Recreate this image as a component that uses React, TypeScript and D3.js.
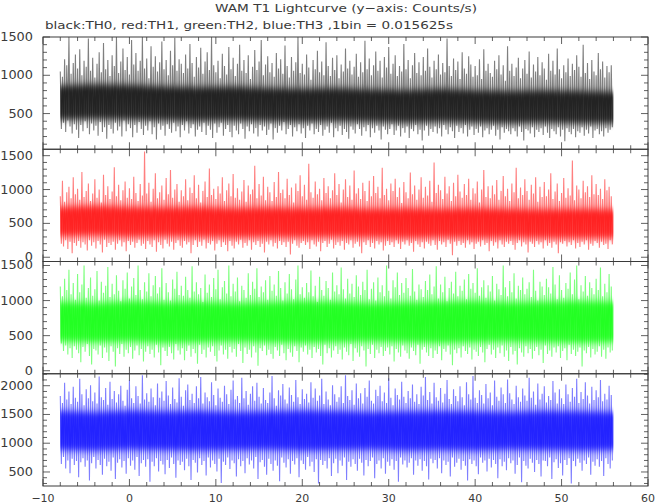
import React, { useEffect, useRef } from 'react';
import * as d3 from 'd3';

// binned lightcurves, one value every 0.125 s (peak / trough pairs)
const t_start = -8;
const bin_step = 0.125;

const th0_values = [
  1050, 300, 980, 380, 1210, 260, 1130, 410, 1500, 330, 1020, 240, 1160, 360, 1270, 290,
  1090, 180, 1340, 350, 1000, 270, 1190, 400, 1110, 310, 1480, 230, 1060, 370, 1230, 280,
  970, 340, 1150, 210, 1300, 390, 1040, 260, 1420, 320, 1080, 170, 1200, 350, 990, 300,
  1260, 240, 1120, 380, 1500, 280, 1030, 330, 1180, 200, 1350, 410, 1070, 270, 1240, 360,
  1010, 310, 1460, 190, 1140, 350, 1290, 250, 1060, 390, 1190, 300, 1500, 220, 1090, 340,
  1220, 280, 960, 400, 1380, 230, 1110, 320, 1250, 160, 1050, 370, 1170, 290, 1440, 340,
  1080, 210, 1200, 360, 1000, 300, 1320, 250, 1130, 380, 1490, 270, 1060, 330, 1210, 190,
  1150, 350, 1030, 280, 1270, 400, 1090, 240, 1410, 310, 1160, 360, 980, 200, 1240, 290,
  1100, 330, 1360, 260, 1020, 380, 1180, 220, 1300, 340, 1070, 290, 1500, 180, 1130, 370,
  1040, 250, 1190, 320, 960, 380, 1280, 210, 1120, 300, 1010, 350, 1370, 260, 1080, 190,
  1230, 340, 990, 280, 1150, 230, 1400, 370, 1060, 300, 1200, 170, 1030, 330, 1260, 270,
  950, 360, 1110, 240, 1330, 310, 1070, 200, 1180, 350, 1460, 280, 1000, 330, 1140, 220,
  1250, 290, 1040, 370, 1160, 160, 980, 310, 1290, 250, 1090, 340, 1210, 280, 1020, 390,
  1390, 230, 1120, 300, 970, 350, 1240, 200, 1060, 320, 1170, 270, 1500, 360, 1030, 240,
  1150, 310, 1010, 180, 1270, 340, 1100, 280, 940, 370, 1200, 230, 1080, 300, 1320, 260,
  1040, 350, 1180, 210, 1000, 290, 1430, 330, 1120, 250, 990, 380, 1230, 190, 1070, 310,
  1260, 270, 960, 340, 1140, 220, 1050, 300, 1350, 260, 1090, 170, 1190, 330, 1010, 290,
  1110, 240, 1280, 360, 980, 300, 1170, 210, 1040, 320, 1450, 270, 1080, 350, 1220, 190,
  1000, 310, 1130, 250, 1310, 340, 1060, 280, 1190, 160, 970, 330, 1240, 290, 1100, 230,
  1370, 300, 1020, 360, 1150, 220, 1260, 280, 990, 340, 1120, 200, 1050, 310, 1410, 250,
  1080, 330, 1200, 180, 960, 300, 1130, 270, 1290, 350, 1030, 230, 1170, 290, 1000, 150,
  1240, 280, 1060, 340, 1350, 210, 1110, 300, 970, 260, 1190, 330, 1080, 240, 1270, 310,
  1010, 200, 1160, 350, 1040, 290, 1480, 230, 1120, 320, 990, 270, 1220, 180, 1070, 340,
  1180, 260, 950, 310, 1300, 240, 1090, 350, 1020, 200, 1250, 290, 1140, 330, 980, 220,
  1120, 300, 1000, 250, 1210, 330, 950, 190, 1340, 280, 1060, 310, 1150, 230, 1030, 290,
  980, 340, 1190, 210, 1080, 290, 1260, 160, 1010, 320, 1130, 250, 930, 300, 1380, 270,
  1060, 230, 1150, 310, 990, 270, 1100, 200, 1230, 330, 960, 260, 1090, 150, 1200, 300,
  1020, 280, 1310, 240, 970, 320, 1140, 190, 1050, 290, 1240, 260, 1000, 310, 1170, 220,
  1090, 330, 940, 250, 1280, 180, 1060, 300, 1190, 270, 1010, 230, 1350, 320, 1080, 200,
  960, 290, 1130, 140, 1040, 310, 1220, 260, 990, 230, 1150, 300, 1070, 190, 1260, 270,
  1110, 250, 980, 320, 1400, 210, 1030, 290, 1160, 240, 950, 330, 1200, 180, 1050, 280,
  1000, 300, 1290, 230, 1080, 270, 1180, 200, 970, 310, 1120, 250, 1040, 290, 1130, 320,
];

const th1_values = [
  900, 200, 1130, 160, 820, 250, 960, 120, 1040, 230, 870, 60, 1180, 210, 930, 170,
  1010, 240, 850, 140, 1260, 220, 890, 190, 980, 100, 1090, 250, 830, 170, 940, 220,
  1150, 130, 880, 240, 1000, 190, 810, 70, 1220, 260, 920, 150, 1050, 210, 860, 180,
  970, 230, 1330, 110, 900, 200, 1070, 250, 840, 160, 990, 220, 1120, 90, 880, 240,
  1020, 180, 860, 230, 1190, 140, 950, 210, 830, 260, 1080, 170, 910, 200, 1560, 120,
  940, 240, 1100, 190, 820, 150, 1010, 250, 1240, 80, 870, 220, 960, 180, 1060, 130,
  850, 260, 1170, 200, 930, 160, 1290, 230, 880, 110, 1000, 210, 1080, 250, 820, 170,
  990, 140, 900, 240, 1150, 190, 840, 220, 1030, 60, 950, 180, 1210, 250, 870, 150,
  1070, 230, 810, 170, 980, 260, 1120, 130, 890, 210, 1310, 190, 920, 240, 1010, 100,
  860, 200, 1050, 250, 940, 150, 1180, 220, 830, 180, 990, 90, 1090, 240, 900, 170,
  1230, 130, 880, 230, 1020, 190, 850, 260, 970, 140, 1140, 210, 820, 170, 1060, 250,
  930, 110, 1000, 220, 1350, 180, 870, 240, 1080, 150, 910, 200, 1190, 70, 840, 230,
  1040, 190, 960, 250, 830, 160, 1110, 210, 890, 130, 1260, 240, 950, 180, 1000, 220,
  870, 150, 1160, 230, 920, 40, 1030, 200, 810, 250, 1090, 170, 980, 140, 1210, 210,
  900, 240, 1070, 180, 850, 220, 1380, 120, 960, 250, 880, 190, 1120, 160, 930, 230,
  1010, 90, 840, 210, 1170, 240, 950, 150, 1050, 200, 870, 260, 990, 130, 1240, 180,
  920, 220, 1080, 170, 810, 240, 1000, 110, 1150, 210, 890, 190, 1060, 250, 850, 140,
  1280, 200, 940, 230, 1020, 160, 860, 60, 1100, 220, 980, 180, 830, 250, 1130, 150,
  900, 210, 1200, 130, 950, 240, 1040, 190, 870, 220, 1320, 100, 920, 170, 1010, 240,
  840, 180, 1090, 220, 980, 150, 1160, 250, 890, 200, 1030, 120, 800, 230, 1110, 190,
  960, 250, 870, 170, 1250, 210, 930, 80, 1060, 240, 850, 190, 1000, 150, 1180, 220,
  880, 130, 1040, 230, 910, 200, 1130, 170, 820, 250, 1400, 180, 950, 110, 1070, 240,
  990, 190, 860, 220, 1190, 150, 940, 260, 1050, 200, 830, 30, 1100, 230, 900, 170,
  1220, 240, 970, 180, 880, 210, 1080, 140, 920, 250, 1160, 190, 850, 220, 1020, 120,
  940, 200, 1120, 230, 810, 160, 1000, 250, 1290, 180, 890, 210, 1050, 90, 870, 240,
  1060, 170, 930, 220, 1140, 130, 850, 250, 980, 190, 1200, 150, 900, 230, 1010, 200,
  830, 240, 1090, 180, 960, 110, 1320, 210, 870, 250, 1030, 160, 920, 220, 1150, 190,
  980, 70, 850, 230, 1070, 200, 940, 150, 1180, 240, 820, 190, 1040, 220, 890, 130,
  1110, 250, 900, 170, 1000, 210, 1240, 140, 860, 230, 970, 190, 1090, 60, 830, 220,
  950, 200, 1170, 240, 880, 160, 1020, 220, 910, 180, 1430, 250, 840, 130, 1060, 210,
  1000, 150, 870, 230, 1130, 190, 960, 250, 1050, 110, 890, 200, 1210, 170, 930, 240,
  1080, 210, 920, 140, 1010, 230, 860, 180, 1150, 200, 990, 120, 1040, 250, 900, 190,
];

const th2_values = [
  1200, 390, 1060, 280, 1310, 360, 1150, 230, 1440, 320, 1090, 180, 1250, 350, 1010, 300,
  1380, 250, 1120, 120, 1230, 340, 1500, 270, 1040, 380, 1180, 210, 1330, 90, 1070, 310,
  1160, 290, 1420, 230, 1000, 360, 1270, 180, 1110, 330, 1210, 260, 1480, 140, 1050, 350,
  1240, 270, 1090, 60, 1360, 320, 1140, 240, 990, 380, 1290, 200, 1170, 300, 1400, 250,
  1030, 340, 1200, 170, 1320, 290, 1080, 360, 1500, 220, 1150, 310, 1020, 130, 1260, 270,
  1130, 350, 1390, 240, 1060, 300, 1220, 190, 1350, 370, 1100, 260, 1190, 80, 1460, 330,
  1010, 280, 1250, 210, 1120, 340, 1000, 250, 1300, 160, 1170, 380, 1410, 290, 1080, 230,
  1210, 320, 1070, 150, 1340, 280, 1150, 360, 1040, 200, 1490, 310, 1130, 250, 1260, 100,
  1090, 370, 1180, 240, 980, 300, 1370, 190, 1110, 330, 1230, 270, 1050, 350, 1320, 210,
  1160, 130, 1440, 290, 1020, 360, 1190, 230, 1280, 300, 1100, 170, 1500, 340, 1060, 260,
  1240, 310, 1130, 200, 1330, 380, 990, 280, 1210, 110, 1150, 330, 1040, 240, 1390, 300,
  1080, 190, 1270, 350, 1170, 260, 1460, 70, 1050, 320, 1200, 280, 1120, 360, 1290, 220,
  1010, 300, 1350, 240, 1140, 170, 1230, 340, 1070, 290, 1420, 210, 1180, 370, 1000, 250,
  1260, 150, 1100, 310, 1380, 260, 1160, 200, 1020, 350, 1300, 280, 1500, 120, 1090, 330,
  1190, 270, 1040, 360, 1250, 230, 1120, 300, 1430, 180, 1060, 340, 1210, 260, 980, 310,
  1340, 210, 1150, 90, 1070, 370, 1280, 250, 1180, 320, 1010, 190, 1400, 290, 1130, 350,
  1220, 240, 1090, 300, 1470, 160, 1160, 330, 1030, 270, 1310, 220, 1100, 380, 1240, 140,
  1050, 320, 1360, 260, 1200, 200, 1080, 350, 1270, 290, 1150, 60, 1440, 310, 1020, 240,
  1170, 370, 1260, 180, 1000, 300, 1330, 250, 1120, 340, 1220, 210, 1060, 280, 1500, 330,
  1140, 230, 1030, 350, 1290, 130, 1190, 310, 1400, 260, 1080, 200, 1250, 360, 1110, 290,
  1320, 250, 1180, 170, 1070, 330, 1450, 280, 1130, 220, 1010, 370, 1230, 100, 1160, 300,
  1050, 340, 1280, 260, 1150, 210, 1370, 320, 1090, 180, 1200, 290, 1490, 240, 1030, 350,
  1230, 150, 1120, 310, 1340, 270, 990, 360, 1180, 230, 1270, 80, 1100, 300, 1410, 250,
  1060, 320, 1210, 190, 1140, 350, 1300, 280, 1020, 240, 1380, 330, 1170, 160, 1250, 300,
  1110, 270, 1460, 210, 1070, 340, 1190, 260, 1290, 120, 1040, 310, 1220, 370, 1130, 230,
  1350, 300, 1000, 180, 1240, 330, 1160, 250, 1080, 360, 1500, 200, 1190, 290, 1060, 140,
  1280, 340, 1120, 230, 1390, 280, 1030, 90, 1210, 320, 1150, 260, 1330, 200, 1090, 350,
  1170, 250, 1260, 310, 1050, 170, 1440, 280, 1140, 340, 1000, 220, 1270, 300, 1200, 110,
  1080, 360, 1310, 240, 1190, 290, 1100, 200, 1480, 330, 1230, 260, 1020, 350, 1360, 180,
  1150, 280, 1040, 320, 1250, 150, 1170, 370, 1400, 240, 1090, 300, 1300, 210, 1500, 270,
  1020, 330, 1220, 60, 1130, 290, 1350, 250, 1070, 340, 1260, 190, 1180, 310, 1090, 230,
  1310, 270, 1150, 350, 1470, 200, 1060, 300, 1240, 170, 1120, 330, 1380, 260, 1200, 290,
];

const th3_values = [
  1820, 640, 1700, 760, 2050, 560, 1760, 700, 1900, 480, 1680, 730, 1980, 620, 1790, 690,
  1720, 410, 2120, 670, 1850, 740, 1660, 590, 1940, 700, 1780, 350, 2010, 650, 1730, 760,
  1880, 560, 1690, 710, 2160, 620, 1800, 450, 1750, 730, 1960, 600, 1670, 680, 2070, 520,
  1770, 750, 1910, 380, 1710, 660, 1850, 720, 2000, 580, 1740, 690, 1650, 470, 1930, 740,
  2100, 610, 1780, 700, 1700, 540, 1990, 760, 1820, 430, 1690, 650, 2180, 710, 1760, 590,
  1870, 720, 1720, 330, 1950, 680, 1800, 600, 1660, 740, 2040, 510, 1790, 690, 1900, 630,
  1740, 460, 2080, 710, 1830, 570, 1680, 750, 1970, 640, 1770, 400, 1710, 700, 2130, 620,
  1810, 680, 1650, 530, 1920, 730, 2020, 600, 1750, 360, 1860, 710, 1700, 660, 1990, 490,
  1780, 740, 2150, 620, 1690, 690, 1880, 440, 1800, 750, 1730, 580, 2060, 700, 1840, 640,
  1660, 510, 1950, 730, 1790, 310, 1720, 680, 2000, 620, 1850, 750, 1680, 550, 1930, 700,
  2090, 650, 1760, 420, 1820, 720, 1700, 600, 2140, 690, 1780, 480, 1910, 740, 1670, 630,
  1860, 700, 1990, 560, 1740, 760, 2050, 380, 1810, 670, 1690, 710, 1960, 590, 1750, 450,
  1700, 730, 1880, 640, 2170, 520, 1780, 700, 1650, 610, 1920, 340, 1830, 750, 2030, 660,
  1760, 580, 1690, 720, 1970, 470, 1840, 690, 1720, 630, 2100, 740, 1800, 410, 1680, 700,
  1940, 640, 1770, 540, 1860, 760, 1710, 600, 2060, 680, 1790, 500, 1950, 720, 1740, 300,
  1830, 710, 2120, 620, 1680, 690, 1900, 560, 1760, 740, 1660, 430, 2010, 650, 1850, 730,
  1720, 480, 1800, 700, 1990, 610, 1700, 750, 2180, 360, 1820, 680, 1750, 590, 1920, 720,
  1670, 640, 2040, 520, 1780, 730, 1870, 660, 1690, 440, 1960, 710, 1810, 600, 2090, 690,
  1740, 750, 1690, 390, 1930, 640, 1820, 700, 2000, 560, 1730, 740, 1880, 470, 1700, 680,
  2130, 610, 1790, 720, 1660, 540, 1950, 690, 1840, 330, 1760, 750, 2070, 630, 1810, 700,
  1700, 580, 1910, 660, 1780, 740, 2020, 450, 1720, 700, 1850, 610, 1680, 720, 1980, 520,
  1830, 690, 2150, 600, 1750, 370, 1890, 730, 1690, 650, 2050, 710, 1800, 560, 1740, 740,
  1960, 480, 1710, 700, 1860, 620, 2100, 680, 1770, 420, 1680, 750, 1940, 590, 1820, 660,
  1730, 730, 1990, 540, 1800, 690, 1660, 610, 2060, 350, 1850, 720, 1760, 640, 2170, 700,
  1790, 600, 1700, 460, 1920, 750, 1840, 660, 1690, 700, 2030, 510, 1780, 730, 1880, 580,
  1660, 710, 2090, 640, 1810, 390, 1740, 720, 1970, 600, 1850, 680, 1700, 530, 2110, 740,
  1870, 650, 1760, 700, 1680, 470, 2000, 620, 1800, 750, 1720, 320, 1950, 690, 1830, 610,
  1740, 560, 2140, 730, 1790, 660, 1900, 500, 1670, 710, 2040, 640, 1760, 420, 1860, 700,
  1990, 690, 1710, 600, 1820, 750, 1750, 380, 2080, 670, 1880, 720, 1690, 570, 1940, 650,
  1780, 440, 1680, 710, 2020, 620, 1850, 740, 1720, 300, 1960, 690, 1810, 600, 2120, 730,
  1700, 660, 1890, 520, 1770, 700, 2060, 640, 1830, 750, 1690, 450, 1980, 680, 1750, 610,
  1920, 720, 1800, 590, 2100, 690, 1730, 430, 1860, 740, 1760, 640, 2000, 560, 1840, 700,
];

// dense core of each band, every 4 s
const band_t_step = 4;
const th0_band_lo = [420, 430, 420, 410, 400, 410, 400, 390, 400, 390, 380, 390, 380, 370, 380, 370, 370];
const th0_band_hi = [860, 880, 870, 850, 840, 850, 830, 820, 830, 810, 800, 820, 800, 790, 800, 790, 780];
const th1_band_lo = [310, 320, 300, 310, 300, 290, 300, 290, 300, 290, 280, 290, 280, 290, 280, 280, 280];
const th1_band_hi = [740, 760, 740, 730, 740, 720, 730, 720, 730, 710, 720, 710, 720, 710, 700, 710, 700];
const th2_band_lo = [420, 410, 420, 400, 410, 420, 410, 400, 410, 420, 410, 400, 410, 420, 410, 400, 410];
const th2_band_hi = [980, 960, 990, 970, 980, 960, 970, 990, 980, 960, 970, 980, 990, 970, 980, 990, 980];
const th3_band_lo = [880, 870, 890, 880, 870, 880, 890, 870, 880, 890, 870, 880, 870, 890, 880, 870, 880];
const th3_band_hi = [1560, 1540, 1570, 1550, 1560, 1540, 1550, 1570, 1560, 1540, 1550, 1560, 1550, 1540, 1560, 1550, 1540];

// y ranges of the four panels (counts/s)
const th0_domain = [34, 1500];
const th1_domain = [-63, 1595];
const th2_domain = [-43, 1557];
const th3_domain = [256, 2208];

const series_colors = ['#000000', '#ff0000', '#00ff00', '#0000ff'];

const x_domain = [-10, 60];
const x_major_ticks = [-10, 0, 10, 20, 30, 40, 50, 60];
const x_tick_labels = ['\u221210', '0', '10', '20', '30', '40', '50', '60'];

const title = 'WAM T1 Lightcurve (y\u2212axis: Counts/s)';
const subtitle = 'black:TH0, red:TH1, green:TH2, blue:TH3 ,1bin = 0.015625s';

const panels = [
  { values: th0_values, lo: th0_band_lo, hi: th0_band_hi, domain: th0_domain, color: series_colors[0] },
  { values: th1_values, lo: th1_band_lo, hi: th1_band_hi, domain: th1_domain, color: series_colors[1] },
  { values: th2_values, lo: th2_band_lo, hi: th2_band_hi, domain: th2_domain, color: series_colors[2] },
  { values: th3_values, lo: th3_band_lo, hi: th3_band_hi, domain: th3_domain, color: series_colors[3] },
];

const font = "'DejaVu Sans', sans-serif";
const ink = '#3a3a3a';

export default function App() {
  const ref = useRef<SVGSVGElement>(null);

  useEffect(() => {
    const svg = d3.select(ref.current);
    svg.selectAll('*').remove();

    // soft vertical edge for the dense core
    svg.append('defs').append('filter')
      .attr('id', 'soft').attr('x', '-5%').attr('y', '-40%').attr('width', '110%').attr('height', '180%')
      .append('feGaussianBlur').attr('stdDeviation', '0 3');

    const left = 43, right = 648, top = 37, bottom = 486;
    const panel_h = (bottom - top) / panels.length;

    const x_scale = d3.scaleLinear().domain(x_domain).range([left, right]);

    panels.forEach((p, i) => {
      const y0 = top + i * panel_h;
      const y1 = y0 + panel_h;
      const y_scale = d3.scaleLinear().domain(p.domain).range([y1, y0]);
      const g = svg.append('g');

      const band = d3.area<number>()
        .x((d, j) => x_scale(t_start + j * band_t_step))
        .y0((d, j) => y_scale(p.lo[j]))
        .y1((d, j) => y_scale(p.hi[j]));
      g.append('path')
        .attr('d', band(p.lo))
        .attr('fill', p.color)
        .attr('opacity', 0.72)
        .attr('filter', 'url(#soft)');

      const line = d3.line<number>()
        .x((d, j) => x_scale(t_start + j * bin_step))
        .y(d => y_scale(d));
      g.append('path')
        .attr('d', line(p.values))
        .attr('fill', 'none')
        .attr('stroke', p.color)
        .attr('stroke-width', 1.1)
        .attr('stroke-opacity', 0.5);

      // frame
      g.append('rect')
        .attr('x', left).attr('y', y0)
        .attr('width', right - left).attr('height', panel_h)
        .attr('fill', 'none').attr('stroke', ink).attr('stroke-width', 1);

      // x ticks, top and bottom, inward
      d3.range(x_domain[0], x_domain[1] + 0.001, 2).forEach(v => {
        const len = v % 10 === 0 ? 7 : 4;
        const xx = x_scale(v);
        g.append('line').attr('x1', xx).attr('x2', xx).attr('y1', y1).attr('y2', y1 - len)
          .attr('stroke', ink).attr('stroke-width', 0.8);
        g.append('line').attr('x1', xx).attr('x2', xx).attr('y1', y0).attr('y2', y0 + len)
          .attr('stroke', ink).attr('stroke-width', 0.8);
      });

      // y ticks, left and right, inward
      const lo = Math.ceil(p.domain[0] / 100) * 100;
      d3.range(lo, p.domain[1] + 0.001, 100).forEach(v => {
        const len = v % 500 === 0 ? 7 : 4;
        const yy = y_scale(v);
        g.append('line').attr('x1', left).attr('x2', left + len).attr('y1', yy).attr('y2', yy)
          .attr('stroke', ink).attr('stroke-width', 0.8);
        g.append('line').attr('x1', right).attr('x2', right - len).attr('y1', yy).attr('y2', yy)
          .attr('stroke', ink).attr('stroke-width', 0.8);
        if (v % 500 === 0) {
          const txt = String(v);
          g.append('text')
            .attr('x', 33).attr('y', yy + 4)
            .attr('text-anchor', 'end')
            .attr('font-family', font).attr('font-size', 11.5)
            .attr('textLength', txt.length * 8.2).attr('lengthAdjust', 'spacingAndGlyphs')
            .attr('fill', ink)
            .text(txt);
        }
      });
    });

    x_major_ticks.forEach((v, i) => {
      const txt = x_tick_labels[i];
      svg.append('text')
        .attr('x', x_scale(v)).attr('y', 501.5)
        .attr('text-anchor', 'middle')
        .attr('font-family', font).attr('font-size', 11)
        .attr('fill', ink)
        .text(txt);
    });

    svg.append('text')
      .attr('x', 346).attr('y', 11.5)
      .attr('text-anchor', 'middle')
      .attr('font-family', font).attr('font-size', 11)
      .attr('textLength', 262).attr('lengthAdjust', 'spacingAndGlyphs')
      .attr('fill', ink)
      .text(title);

    svg.append('text')
      .attr('x', 45).attr('y', 28.5)
      .attr('font-family', font).attr('font-size', 11)
      .attr('textLength', 408).attr('lengthAdjust', 'spacingAndGlyphs')
      .attr('fill', ink)
      .text(subtitle);
  }, []);

  return (
    <svg ref={ref} width={657} height={504}
      style={{ position: 'absolute', left: 0, top: 0, background: '#fff' }} />
  );
}
